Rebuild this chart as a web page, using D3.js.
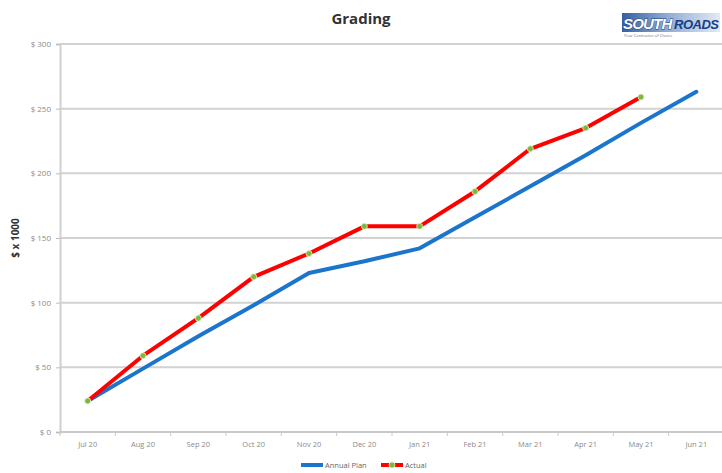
<!DOCTYPE html>
<html>
<head>
<meta charset="utf-8">
<script src="https://cdn.jsdelivr.net/npm/d3@7/dist/d3.min.js"></script>
<style>
  html, body { margin: 0; padding: 0; background: #fff; }
  svg { display: block; font-family: "Open Sans", "DejaVu Sans", sans-serif; }
</style>
</head>
<body>
<svg id="chart" width="722" height="473"></svg>
<script>
// Monthly grading cost, in thousands of dollars
const months = ["Jul 20", "Aug 20", "Sep 20", "Oct 20", "Nov 20", "Dec 20",
                "Jan 21", "Feb 21", "Mar 21", "Apr 21", "May 21", "Jun 21"];
const annualPlan = [24, 49, 74, 98, 123, 132, 142, 166, 190, 214, 239, 263];
const actual = [24, 59, 88, 120, 138, 159, 159, 186, 219, 235, 259];
const yTicks = [0, 50, 100, 150, 200, 250, 300];

const svg = d3.select("#chart");
const plot = { left: 60, right: 724, top: 44, bottom: 432 };

const x = d3.scaleBand().domain(months).range([plot.left, plot.right]).padding(0);
const y = d3.scaleLinear().domain([0, 300]).range([plot.bottom, plot.top]);

// Title
svg.append("text")
  .attr("x", 361).attr("y", 24)
  .attr("text-anchor", "middle")
  .attr("font-size", 15).attr("font-weight", "bold")
  .attr("fill", "#333")
  .text("Grading");

// Company logo, top right
const logo = svg.append("g").attr("transform", "translate(622,10)");
const grad = svg.append("defs").append("linearGradient").attr("id", "logoBand")
  .attr("x1", "0").attr("x2", "1");
grad.append("stop").attr("offset", "0").attr("stop-color", "#34619f");
grad.append("stop").attr("offset", "0.45").attr("stop-color", "#8eaad3");
grad.append("stop").attr("offset", "1").attr("stop-color", "#e3eaf4");
logo.append("rect").attr("x", 0).attr("y", 3).attr("width", 98).attr("height", 19)
  .attr("fill", "url(#logoBand)");
logo.append("text").attr("x", 1).attr("y", 19)
  .attr("font-size", 15).attr("font-weight", "bold").attr("font-style", "italic")
  .attr("font-family", "Liberation Sans, Arial, sans-serif")
  .attr("letter-spacing", -0.8)
  .attr("fill", "#ffffff").attr("stroke", "#163f86").attr("stroke-width", 0.9)
  .attr("paint-order", "stroke")
  .text("SOUTH");
logo.append("text").attr("x", 52).attr("y", 19)
  .attr("font-size", 13).attr("font-weight", "bold").attr("font-style", "italic")
  .attr("font-family", "Liberation Sans, Arial, sans-serif")
  .attr("letter-spacing", -0.5)
  .attr("fill", "#163f86")
  .text("ROADS");
logo.append("text").attr("x", 2).attr("y", 27)
  .attr("font-size", 4).attr("fill", "#5a6f90")
  .text("Your Contractor of Choice");

// Horizontal gridlines
svg.append("g").selectAll("line").data(yTicks).join("line")
  .attr("x1", plot.left).attr("x2", plot.right)
  .attr("y1", d => y(d)).attr("y2", d => y(d))
  .attr("stroke", "#d2d2d2").attr("stroke-width", 2);

// Y axis
const yAxis = svg.append("g")
  .attr("transform", `translate(${plot.left},0)`)
  .call(d3.axisLeft(y).tickValues(yTicks).tickSize(4).tickPadding(5)
    .tickFormat(d => "$ " + d));
yAxis.select(".domain").attr("stroke", "#cfcfcf").attr("stroke-width", 2);
yAxis.selectAll(".tick line").attr("stroke", "#bbb");
yAxis.selectAll(".tick text").attr("font-size", 8).attr("fill", "#8a8a8a")
  .attr("font-family", "Open Sans, sans-serif");

// Y axis title
svg.append("text")
  .attr("transform", "translate(19,238) rotate(-90)")
  .attr("text-anchor", "middle")
  .attr("font-size", 10).attr("font-weight", "bold").attr("fill", "#333")
  .text("$ x 1000");

// X axis with ticks between categories
const xAxisG = svg.append("g").attr("transform", `translate(0,${plot.bottom})`);
xAxisG.append("line")
  .attr("x1", plot.left).attr("x2", plot.right)
  .attr("stroke", "#c8c8c8").attr("stroke-width", 2);
const boundaries = months.map(m => x(m)).concat([x(months[months.length - 1]) + x.bandwidth()]);
xAxisG.selectAll("line.tk").data(boundaries).join("line").attr("class", "tk")
  .attr("x1", d => d).attr("x2", d => d).attr("y1", 0).attr("y2", 4)
  .attr("stroke", "#c8c8c8");
xAxisG.selectAll("text").data(months).join("text")
  .attr("x", d => x(d) + x.bandwidth() / 2).attr("y", 15)
  .attr("text-anchor", "middle")
  .attr("font-size", 7.5).attr("fill", "#8a8a8a")
  .text(d => d);

const cx = i => x(months[i]) + x.bandwidth() / 2;
const line = d3.line().x((d, i) => cx(i)).y(d => y(d));

// Annual plan line
svg.append("path").datum(annualPlan)
  .attr("d", line).attr("fill", "none")
  .attr("stroke", "#1b75cc").attr("stroke-width", 4)
  .attr("stroke-linejoin", "round").attr("stroke-linecap", "round");

// Actual line with markers
svg.append("path").datum(actual)
  .attr("d", line).attr("fill", "none")
  .attr("stroke", "#ff0000").attr("stroke-width", 4)
  .attr("stroke-linejoin", "round");
svg.append("g").selectAll("circle").data(actual).join("circle")
  .attr("cx", (d, i) => cx(i)).attr("cy", d => y(d)).attr("r", 3)
  .attr("fill", "#7db83a").attr("stroke", "#e8f2d0").attr("stroke-width", 0.8);

// Legend
const lg = svg.append("g").attr("transform", "translate(0,465)");
lg.append("line").attr("x1", 301).attr("x2", 323).attr("y1", 0).attr("y2", 0)
  .attr("stroke", "#1b75cc").attr("stroke-width", 4);
lg.append("text").attr("x", 325).attr("y", 3).attr("font-size", 7.5).attr("fill", "#666")
  .text("Annual Plan");
lg.append("line").attr("x1", 381).attr("x2", 403).attr("y1", 0).attr("y2", 0)
  .attr("stroke", "#ff0000").attr("stroke-width", 4);
lg.append("circle").attr("cx", 392).attr("cy", 0).attr("r", 3)
  .attr("fill", "#7db83a").attr("stroke", "#e8f2d0").attr("stroke-width", 0.8);
lg.append("text").attr("x", 405).attr("y", 3).attr("font-size", 7.5).attr("fill", "#666")
  .text("Actual");
</script>
</body>
</html>
